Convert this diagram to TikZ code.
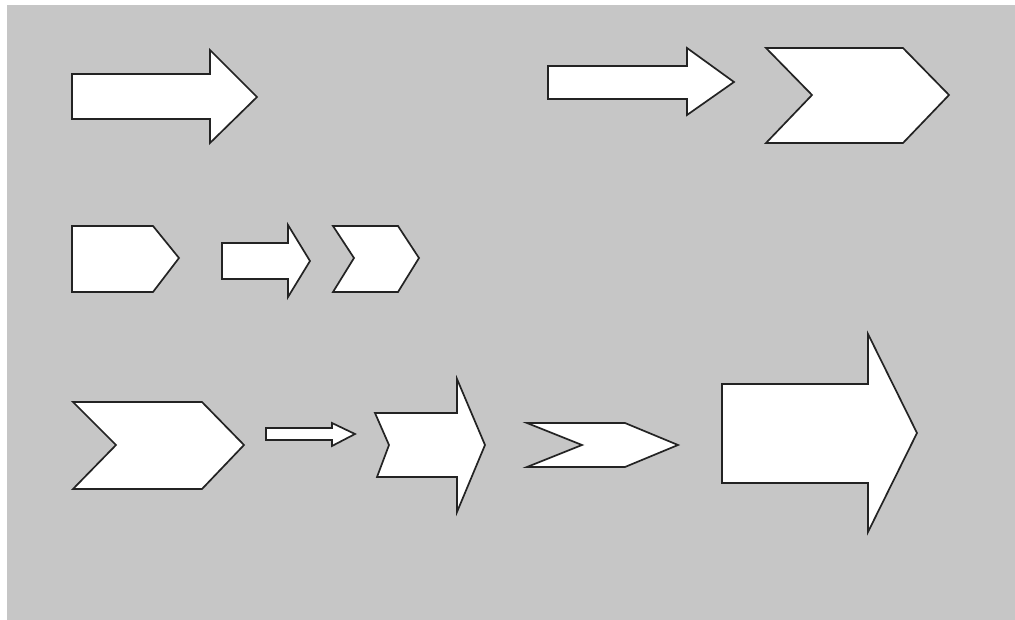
\documentclass[tikz,border=0pt]{standalone}
\usepackage{tikz}
\definecolor{panelgray}{RGB}{198,198,198}
\definecolor{edgeink}{RGB}{35,35,35}
\tikzset{
  blockshape/.style={draw=edgeink, fill=white, line width=1.7pt, line join=miter},
}
\begin{document}
\begin{tikzpicture}[x=1pt,y=-1pt]
  \useasboundingbox (0,0) rectangle (1015,620);
  % grey panel
  \fill[panelgray] (7,5) rectangle (1015,620);

  % --- top row ---
  % block arrow, left
  \draw[blockshape] (72,74) -- (210,74) -- (210,50) -- (257,97) -- (210,143) -- (210,119) -- (72,119) -- cycle;
  % block arrow, right
  \draw[blockshape] (548,66) -- (687,66) -- (687,48) -- (734,82) -- (687,115) -- (687,99) -- (548,99) -- cycle;
  % chevron, large
  \draw[blockshape] (766,48) -- (903,48) -- (949,95) -- (903,143) -- (766,143) -- (812,95) -- cycle;

  % --- middle row ---
  % pentagon
  \draw[blockshape] (72,226) -- (153,226) -- (179,258) -- (153,292) -- (72,292) -- cycle;
  % small block arrow
  \draw[blockshape] (222,243) -- (288,243) -- (288,225) -- (310,261) -- (288,297) -- (288,279) -- (222,279) -- cycle;
  % small chevron
  \draw[blockshape] (333,226) -- (398,226) -- (419,258) -- (398,292) -- (333,292) -- (354,258) -- cycle;

  % --- bottom row ---
  % chevron
  \draw[blockshape] (73,402) -- (202,402) -- (244,445) -- (202,489) -- (73,489) -- (116,445) -- cycle;
  % thin block arrow
  \draw[blockshape] (266,428) -- (332,428) -- (332,423) -- (355,434) -- (332,446) -- (332,440) -- (266,440) -- cycle;
  % notched block arrow
  \draw[blockshape] (375,413) -- (457,413) -- (457,379) -- (485,445) -- (457,512) -- (457,477) -- (377,477) -- (389,445) -- cycle;
  % flat chevron
  \draw[blockshape] (527,423) -- (625,423) -- (678,445) -- (625,467) -- (527,467) -- (582,445) -- cycle;
  % large block arrow
  \draw[blockshape] (722,384) -- (868,384) -- (868,334) -- (917,433) -- (868,532) -- (868,483) -- (722,483) -- cycle;
\end{tikzpicture}
\end{document}
